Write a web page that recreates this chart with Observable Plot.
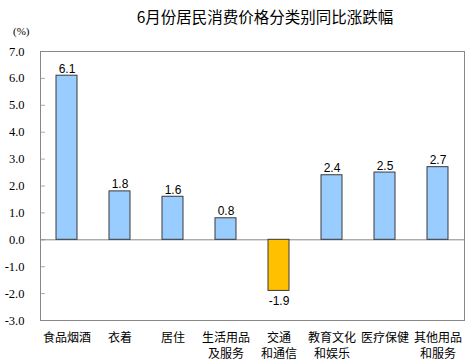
<!DOCTYPE html>
<html><head><meta charset="utf-8">
<script src="https://cdn.jsdelivr.net/npm/d3@7"></script>
<script src="https://cdn.jsdelivr.net/npm/@observablehq/plot@0.6"></script>
<style>
body{margin:0;background:#fff;}
#wrap{position:relative;width:473px;height:360px;overflow:hidden;}
#title{position:absolute;top:5px;left:0;width:530px;text-align:center;font-family:"Noto Sans CJK SC",sans-serif;font-size:15.5px;color:#000;}
#unit{position:absolute;top:25px;left:13px;font-family:"Times New Roman","Liberation Serif",serif;font-size:11px;color:#000;}
#chart{position:absolute;top:0;left:0;}
#chart g[aria-label="y-axis tick label"] text{font-family:"Times New Roman","Liberation Serif",serif !important;}
</style></head>
<body>
<div id="wrap"><div id="chart"></div><div id="title">6月份居民消费价格分类别同比涨跌幅</div><div id="unit">(%)</div></div>
<script>
const categories = ["食品烟酒","衣着","居住","生活用品\n及服务","交通\n和通信","教育文化\n和娱乐","医疗保健","其他用品\n和服务"];
const values = [6.1, 1.8, 1.6, 0.8, -1.9, 2.4, 2.5, 2.7];
const yTicks = [-3,-2,-1,0,1,2,3,4,5,6,7];

const data = categories.map((c,i)=>({cat:c, val:values[i]}));
const pos = data.filter(d=>d.val>=0), neg = data.filter(d=>d.val<0);

const chart = Plot.plot({
  width:473, height:360,
  marginTop:51, marginBottom:40, marginLeft:40, marginRight:9,
  x:{domain:categories, paddingInner:0.6, paddingOuter:0.3},
  y:{domain:[-3,7]},
  marks:[
    Plot.tickY(yTicks,{y:d=>d, stroke:"#aaa", insetRight:419}),
    Plot.ruleY([0],{stroke:"#888"}),
    Plot.barY(data,{x:"cat", y:"val", fill:d=>d.val<0?"#FFC000":"#99CCFF", stroke:"#3a3a3a", strokeWidth:1}),
    Plot.frame({stroke:"#888"}),
    Plot.axisY({ticks:yTicks, tickSize:0, tickPadding:16, tickFormat:d=>d.toFixed(1), fontFamily:"Times New Roman, Liberation Serif, serif", fontSize:12.5, fill:"#000", label:null}),
    Plot.axisX({tickSize:0, tickPadding:10, fontFamily:"Noto Sans CJK SC", fontSize:12, fill:"#000", lineHeight:1.35, lineAnchor:"top", label:null}),
    Plot.text(pos,{x:"cat", y:"val", text:d=>d.val.toFixed(1), lineAnchor:"bottom", dy:-3, fontFamily:"Liberation Sans", fontSize:12, fill:"#000"}),
    Plot.text(neg,{x:"cat", y:"val", text:d=>d.val.toFixed(1), lineAnchor:"top", dy:6, fontFamily:"Liberation Sans", fontSize:12, fill:"#000"})
  ]
});
document.getElementById("chart").appendChild(chart);
</script>
</body></html>
